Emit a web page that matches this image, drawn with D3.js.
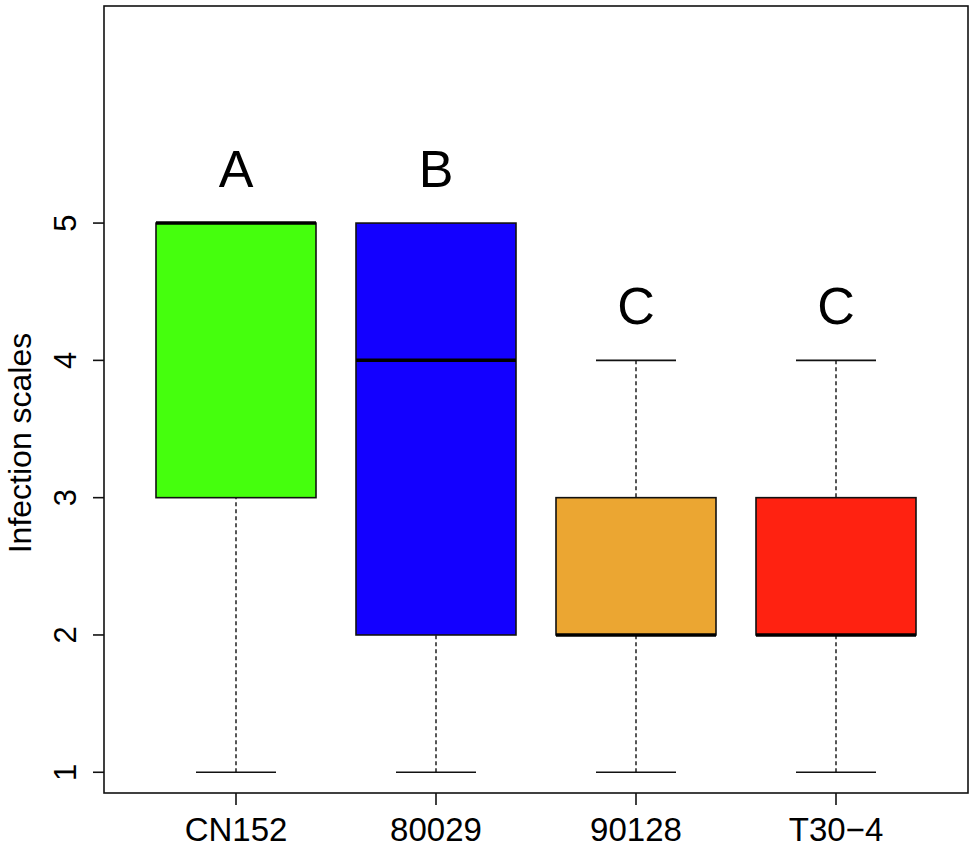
<!DOCTYPE html>
<html>
<head>
<meta charset="utf-8">
<script src="https://cdn.jsdelivr.net/npm/d3@7"></script>
<style>
  body { margin: 0; background: #fff; }
  text { font-family: "Liberation Sans", Arial, sans-serif; }
</style>
</head>
<body>
<div id="chart"></div>
<script>
// box statistics
var groups = ["CN152", "80029", "90128", "T30\u22124"];
var lowWhisker = [1, 1, 1, 1];
var q1 = [3, 2, 2, 2];
var medians = [5, 4, 2, 2];
var q3 = [5, 5, 3, 3];
var highWhisker = [5, 5, 4, 4];
var letters = ["A", "B", "C", "C"];
var fills = ["#45ff0d", "#1300ff", "#eba632", "#ff2211"];
var yTicks = [1, 2, 3, 4, 5];

var width = 975, height = 849;
var plotLeft = 104, plotRight = 968, plotTop = 6, plotBottom = 793;

var svg = d3.select("#chart").append("svg")
  .attr("width", width)
  .attr("height", height);

var x = d3.scaleLinear().domain([0.34, 4.66]).range([plotLeft, plotRight]);
var y = d3.scaleLinear().domain([0.849, 6.581]).range([plotBottom, plotTop]);

var boxHalf = 0.4, capHalf = 0.2;

for (let i = 0; i < groups.length; i++) {
  var cx = x(i + 1);
  var g = svg.append("g");

  // whiskers
  g.append("line")
    .attr("x1", cx).attr("x2", cx)
    .attr("y1", y(lowWhisker[i])).attr("y2", y(q1[i]))
    .attr("stroke", "#111").attr("stroke-width", 1.4)
    .attr("stroke-dasharray", "4,3");
  g.append("line")
    .attr("x1", cx).attr("x2", cx)
    .attr("y1", y(highWhisker[i])).attr("y2", y(q3[i]))
    .attr("stroke", "#111").attr("stroke-width", 1.4)
    .attr("stroke-dasharray", "4,3");
  g.append("line")
    .attr("x1", x(i + 1 - capHalf)).attr("x2", x(i + 1 + capHalf))
    .attr("y1", y(lowWhisker[i])).attr("y2", y(lowWhisker[i]))
    .attr("stroke", "#111").attr("stroke-width", 1.6);
  if (highWhisker[i] > q3[i]) {
    g.append("line")
      .attr("x1", x(i + 1 - capHalf)).attr("x2", x(i + 1 + capHalf))
      .attr("y1", y(highWhisker[i])).attr("y2", y(highWhisker[i]))
      .attr("stroke", "#111").attr("stroke-width", 1.6);
  }

  // box
  g.append("rect")
    .attr("x", x(i + 1 - boxHalf))
    .attr("y", y(q3[i]))
    .attr("width", x(i + 1 + boxHalf) - x(i + 1 - boxHalf))
    .attr("height", y(q1[i]) - y(q3[i]))
    .attr("fill", fills[i])
    .attr("stroke", "#111").attr("stroke-width", 1.6);

  // median
  g.append("line")
    .attr("x1", x(i + 1 - boxHalf)).attr("x2", x(i + 1 + boxHalf))
    .attr("y1", y(medians[i])).attr("y2", y(medians[i]))
    .attr("stroke", "#000").attr("stroke-width", 3.5);

  // significance letter
  svg.append("text")
    .attr("x", cx)
    .attr("y", y(highWhisker[i] + 0.4))
    .attr("dy", "0.36em")
    .attr("text-anchor", "middle")
    .attr("font-size", 52)
    .text(letters[i]);
}

// frame
svg.append("rect")
  .attr("x", plotLeft).attr("y", plotTop)
  .attr("width", plotRight - plotLeft).attr("height", plotBottom - plotTop)
  .attr("fill", "none").attr("stroke", "#111").attr("stroke-width", 1.6);

// y axis ticks
svg.selectAll(".ytick").data(yTicks).enter().append("line")
  .attr("x1", plotLeft - 11).attr("x2", plotLeft)
  .attr("y1", d => y(d)).attr("y2", d => y(d))
  .attr("stroke", "#111").attr("stroke-width", 1.6);

svg.selectAll(".ylab").data(yTicks).enter().append("text")
  .attr("transform", d => "translate(76," + y(d) + ") rotate(-90)")
  .attr("text-anchor", "middle")
  .attr("font-size", 31)
  .text(d => d);

// x axis ticks
svg.selectAll(".xtick").data(groups).enter().append("line")
  .attr("x1", (d, i) => x(i + 1)).attr("x2", (d, i) => x(i + 1))
  .attr("y1", plotBottom).attr("y2", plotBottom + 12)
  .attr("stroke", "#111").attr("stroke-width", 1.6);

svg.selectAll(".xlab").data(groups).enter().append("text")
  .attr("x", (d, i) => x(i + 1))
  .attr("y", 841)
  .attr("text-anchor", "middle")
  .attr("font-size", 33)
  .text(d => d);

// y axis title
svg.append("text")
  .attr("transform", "translate(31,443) rotate(-90)")
  .attr("text-anchor", "middle")
  .attr("font-size", 32)
  .text("Infection scales");
</script>
</body>
</html>
